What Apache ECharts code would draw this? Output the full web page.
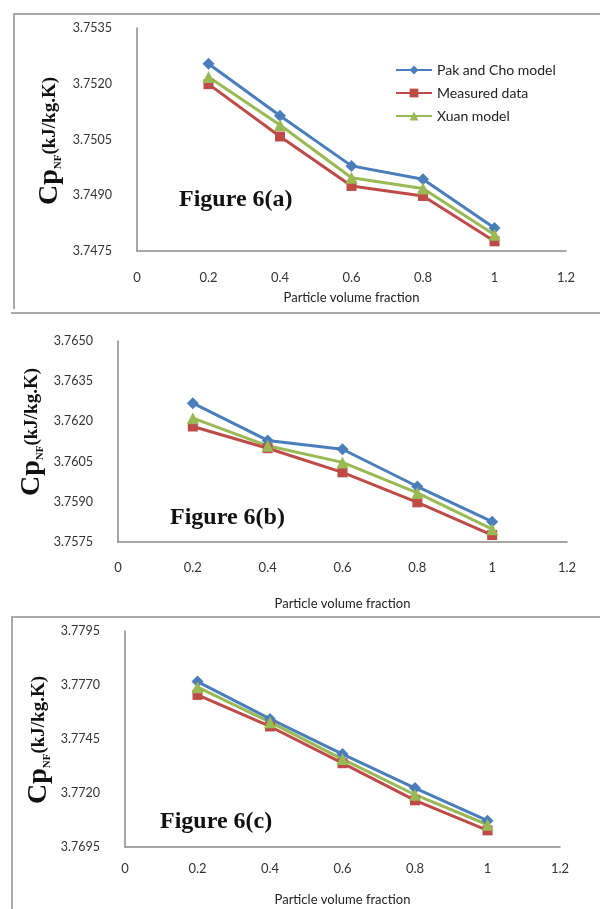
<!DOCTYPE html>
<html>
<head>
<meta charset="utf-8">
<script src="https://cdn.jsdelivr.net/npm/echarts@6/dist/echarts.min.js"></script>
<style>
  html, body { margin: 0; padding: 0; background: #fff; }
  #main { width: 600px; height: 909px; }
</style>
</head>
<body>
<div id="main"></div>
<script>
// particle volume fraction
var fractions = [0.2, 0.4, 0.6, 0.8, 1];
var xTicks = [0, 0.2, 0.4, 0.6, 0.8, 1, 1.2];

// Figure 6(a)
var pakA = [3.75254, 3.75114, 3.74979, 3.74943, 3.74812];
var measuredA = [3.75199, 3.75058, 3.74925, 3.74898, 3.74776];
var xuanA = [3.75218, 3.75089, 3.74947, 3.74918, 3.74794];
var yTicksA = [3.7475, 3.7490, 3.7505, 3.7520, 3.7535];

// Figure 6(b)
var pakB = [3.76268, 3.76129, 3.76096, 3.75957, 3.75826];
var measuredB = [3.76181, 3.76100, 3.76010, 3.75898, 3.75776];
var xuanB = [3.76212, 3.76109, 3.76047, 3.75933, 3.75798];
var yTicksB = [3.7575, 3.7590, 3.7605, 3.7620, 3.7635, 3.7650];

// Figure 6(c)
var pakC = [3.77716, 3.77543, 3.77380, 3.77223, 3.77072];
var measuredC = [3.77654, 3.77508, 3.77338, 3.77166, 3.77027];
var xuanC = [3.77690, 3.77528, 3.77357, 3.77192, 3.77053];
var yTicksC = [3.7695, 3.7720, 3.7745, 3.7770, 3.7795];

var seriesNames = ['Pak and Cho model', 'Measured data', 'Xuan model'];
var panelTitles = ['Figure 6(a)', 'Figure 6(b)', 'Figure 6(c)'];

var colors = ['#4a7ebb', '#be4b48', '#98b954'];
var symbols = ['diamond', 'rect', 'triangle'];
var symbolSizes = [12, 10, 12];
var labelFont = 'Lato, "Open Sans", sans-serif';
var serif = '"Liberation Serif", "DejaVu Serif", serif';

var panels = [
  { data: [pakA, measuredA, xuanA], ticks: yTicksA,
    grid: { left: 137, top: 28, right: 34, height: 223 }, labelMargin: 20, nameGap: 40 },
  { data: [pakB, measuredB, xuanB], ticks: yTicksB,
    grid: { left: 118, top: 341, right: 33, height: 201 }, labelMargin: 19, nameGap: 55 },
  { data: [pakC, measuredC, xuanC], ticks: yTicksC,
    grid: { left: 125, top: 631, right: 40, height: 216 }, labelMargin: 15, nameGap: 46 }
];

var grids = [], xAxes = [], yAxes = [], series = [];

panels.forEach(function(p, k) {
  grids.push(p.grid);
  xAxes.push({
    type: 'value',
    gridIndex: k,
    min: xTicks[0],
    max: xTicks[xTicks.length - 1],
    interval: 0.2,
    name: 'Particle volume fraction',
    nameLocation: 'middle',
    nameGap: p.nameGap,
    nameTextStyle: { fontFamily: labelFont, fontSize: 13, color: '#222' },
    axisLine: { lineStyle: { color: '#8a8a8a', width: 1.5 } },
    axisTick: { show: false },
    splitLine: { show: false },
    axisLabel: {
      margin: p.labelMargin,
      fontFamily: labelFont,
      fontSize: 13,
      color: '#333',
      formatter: function(v) { return String(+v.toFixed(1)); }
    }
  });
  yAxes.push({
    type: 'value',
    gridIndex: k,
    min: p.ticks[0],
    max: p.ticks[p.ticks.length - 1],
    axisLine: { show: true, lineStyle: { color: '#8a8a8a', width: 1.5 } },
    axisTick: { show: false },
    splitLine: { show: false },
    axisLabel: {
      customValues: p.ticks,
      margin: 25,
      fontFamily: labelFont,
      fontSize: 12.5,
      color: '#333',
      formatter: function(v) { return v.toFixed(4); }
    }
  });
  p.data.forEach(function(vals, i) {
    series.push({
      name: seriesNames[i],
      type: 'line',
      xAxisIndex: k,
      yAxisIndex: k,
      data: fractions.map(function(x, j) { return [x, vals[j]]; }),
      symbol: symbols[i],
      symbolSize: symbolSizes[i],
      showAllSymbol: true,
      lineStyle: { color: colors[i], width: 3 },
      itemStyle: { color: colors[i] }
    });
  });
});

// y axis names and figure labels
var yNamePos = [[50, 141], [32, 432], [39, 740]];
var figPos = [[179, 200], [170, 518], [160, 822]];
var graphics = [];
yNamePos.forEach(function(pos) {
  graphics.push({
    type: 'text',
    x: pos[0],
    y: pos[1],
    rotation: Math.PI / 2,
    style: {
      text: '{c|Cp}{s|NF}{u|(kJ/kg.K)}',
      align: 'center',
      verticalAlign: 'middle',
      fill: '#111',
      rich: {
        c: { fontSize: 28, fontWeight: 'bold', fontFamily: serif, fill: '#111' },
        s: { fontSize: 11, fontWeight: 'bold', fontFamily: serif, fill: '#111', verticalAlign: 'bottom', padding: [12, 0, 0, 0] },
        u: { fontSize: 19, fontWeight: 'bold', fontFamily: serif, fill: '#111' }
      }
    }
  });
});
figPos.forEach(function(pos, k) {
  graphics.push({
    type: 'text',
    x: pos[0],
    y: pos[1],
    style: {
      text: panelTitles[k],
      font: 'bold 24px ' + serif,
      fill: '#111',
      align: 'left',
      verticalAlign: 'middle'
    }
  });
});
// panel frames
graphics.push(
  { type: 'polyline', shape: { points: [[14, 309], [14, 14], [600, 14]] }, style: { stroke: '#a8a8a8', lineWidth: 2, fill: null } },
  { type: 'line', shape: { x1: 11, y1: 313, x2: 600, y2: 313 }, style: { stroke: '#a8a8a8', lineWidth: 2 } },
  { type: 'polyline', shape: { points: [[12, 909], [12, 617], [600, 617]] }, style: { stroke: '#a8a8a8', lineWidth: 2, fill: null } }
);

var myChart = echarts.init(document.getElementById('main'));
myChart.setOption({
  animation: false,
  backgroundColor: '#fff',
  legend: {
    data: seriesNames,
    orient: 'vertical',
    left: 390,
    top: 58,
    itemWidth: 36,
    itemHeight: 11,
    itemGap: 9,
    textStyle: { fontFamily: labelFont, fontSize: 14, color: '#222' }
  },
  grid: grids,
  xAxis: xAxes,
  yAxis: yAxes,
  series: series,
  graphic: graphics
});
</script>
</body>
</html>
